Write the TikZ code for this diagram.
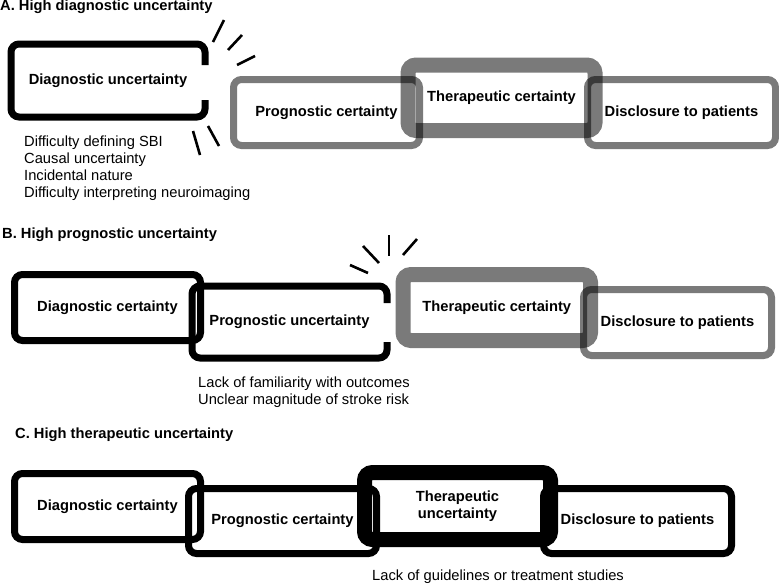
\documentclass[tikz,border=0pt]{standalone}
\usepackage{fontspec}
\setmainfont{Liberation Sans}
\usepackage{tikz}

\begin{document}
\begin{tikzpicture}[x=1pt,y=1pt]
              \tikzstyle{every node}+=[inner sep=0pt, font=\fontsize{14.7}{17}\selectfont]
              \tikzstyle{stage}=[rectangle, rounded corners=8, line width=7, align=center, font=\bfseries\fontsize{14.7}{17}\selectfont]
              \tikzstyle{faded}=[draw=black, draw opacity=0.52]
              \tikzstyle{heavy}=[line width=15]
              \tikzstyle{open}=[black, line width=7, rounded corners=8]
              \tikzstyle{burst}=[black, line width=2.6]
              \tikzstyle{heading}=[anchor=base west, font=\bfseries\fontsize{14.7}{17}\selectfont]
              \useasboundingbox (0,0) rectangle (779,-584);
              % A
              \node [heading] (titleA) at (0,-10.5) {A. High diagnostic uncertainty};
              \node [stage, minimum width=187, minimum height=66] (diagA) at (108,-80.5) {Diagnostic uncertainty};
              \draw [open] ([yshift=15.5]diagA.east) |- (diagA.north west) |- (diagA.south east) -- ([yshift=-19.5]diagA.east);
              \node [stage, faded, minimum width=186, minimum height=66] (progA) at (326.5,-112.5) {Prognostic certainty};
              \node [stage, faded, heavy, minimum width=187, minimum height=65.5] (therA) at (501.5,-97.75) {Therapeutic certainty};
              \node [stage, faded, minimum width=188, minimum height=66] (discA) at (681.5,-112.5) {Disclosure to patients};
              \draw [burst] (213,-42) -- (224,-20);
              \draw [burst] (228,-50) -- (242,-35);
              \draw [burst] (237,-65) -- (255,-56);
              \draw [burst] (193,-131) -- (200,-155);
              \draw [burst] (208,-126) -- (219,-146);
              \node [anchor=base west] (causeA1) at (24,-146.7) {Difficulty defining SBI};
              \node [anchor=base west] (causeA2) at (24,-163.5) {Causal uncertainty};
              \node [anchor=base west] (causeA3) at (24,-180.3) {Incidental nature};
              \node [anchor=base west] (causeA4) at (24,-197.3) {Difficulty interpreting neuroimaging};
              % B
              \node [heading] (titleB) at (2,-238.5) {B. High prognostic uncertainty};
              \node [stage, draw, minimum width=186, minimum height=66] (diagB) at (107.5,-307.5) {Diagnostic certainty};
              \node [stage, minimum width=188, minimum height=65] (progB) at (289.5,-322) {Prognostic uncertainty};
              \draw [open] ([yshift=19]progB.east) |- (progB.north west) |- (progB.south east) -- ([yshift=-20]progB.east);
              \node [stage, faded, heavy, minimum width=187.5, minimum height=66] (therB) at (496.75,-307.5) {Therapeutic certainty};
              \node [stage, faded, minimum width=188, minimum height=66] (discB) at (677.5,-322.5) {Disclosure to patients};
              \draw [burst] (350,-265) -- (368,-273);
              \draw [burst] (363,-246) -- (379,-263);
              \draw [burst] (389,-235) -- (389,-256);
              \draw [burst] (403,-255) -- (417,-239);
              \node [anchor=base west] (causeB1) at (198,-387.7) {Lack of familiarity with outcomes};
              \node [anchor=base west] (causeB2) at (198,-404.3) {Unclear magnitude of stroke risk};
              % C
              \node [heading] (titleC) at (15,-438.5) {C. High therapeutic uncertainty};
              \node [stage, draw, minimum width=186, minimum height=66] (diagC) at (107.5,-506.5) {Diagnostic certainty};
              \node [stage, draw, minimum width=188, minimum height=65] (progC) at (282.5,-521) {Prognostic certainty};
              \node [stage, draw, heavy, minimum width=186, minimum height=67] (therC) at (457.5,-506) {Therapeutic\\uncertainty};
              \node [stage, draw, minimum width=188, minimum height=65] (discC) at (637.5,-521) {Disclosure to patients};
              \node [anchor=base west] (causeC1) at (372,-580) {Lack of guidelines or treatment studies};
            \end{tikzpicture}
\end{document}
